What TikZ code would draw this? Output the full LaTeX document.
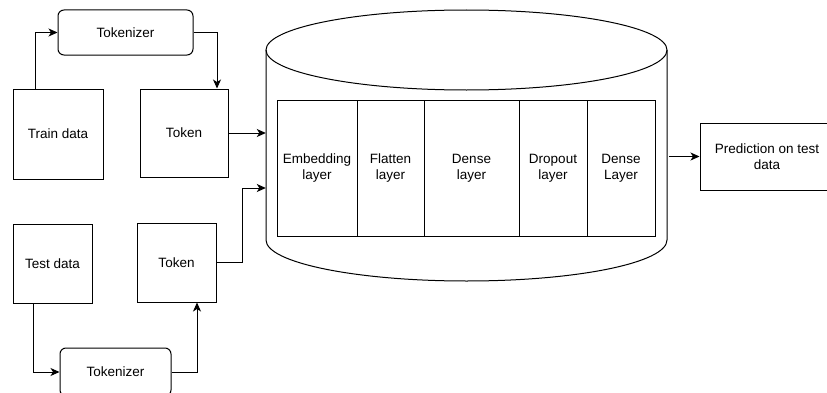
\documentclass[tikz,border=0pt]{standalone}
\usepackage{fontspec}
\setmainfont{Liberation Sans}
\usetikzlibrary{arrows.meta}
\begin{document}
\begin{tikzpicture}[x=1pt,y=1pt,
  box/.style={draw, line width=1pt, rectangle, inner sep=0pt, align=center, font=\fontsize{13.5}{16}\selectfont},
  rbox/.style={box, rounded corners=6pt},
  cell/.style={box, minimum height=136pt},
  arr/.style={line width=1pt, -{Stealth[length=9pt,width=8pt,inset=2.5pt]}}]
\clip (0,0) rectangle (827,392);
\fill[white] (0,0) rectangle (827,392);
% left side nodes
\node[rbox, minimum width=135pt, minimum height=45pt] (tok1) at (125.5,359.5) {Tokenizer};
\node[box, minimum width=90pt, minimum height=90pt] (train) at (58,258) {Train data};
\node[box, minimum width=88pt, minimum height=88pt] (token1) at (184,259) {Token};
\node[box, minimum width=79pt, minimum height=79pt] (test) at (52.5,128.5) {Test data};
\node[box, minimum width=79pt, minimum height=79pt] (token2) at (176.5,129.5) {Token};
\node[rbox, minimum width=111pt, minimum height=48pt] (tok2) at (115.5,20) {Tokenizer};
% cylinder
\draw[line width=1pt] (466.5,342) ellipse [x radius=200.5pt, y radius=40pt];
\draw[line width=1pt] (266,342) -- (266,152) arc[start angle=180, end angle=360, x radius=200.5pt, y radius=41pt] -- (667,342);
\node[minimum width=401pt, minimum height=271pt, inner sep=0pt] (cyl) at (466.5,246.5) {};
% layers
\node[cell, minimum width=80pt] (emb) at (317,224) {Embedding\\layer};
\node[cell, minimum width=67pt] (flat) at (390.5,224) {Flatten\\layer};
\node[cell, minimum width=95pt] (dense) at (471.5,224) {Dense\\layer};
\node[cell, minimum width=68pt] (drop) at (553,224) {Dropout\\layer};
\node[cell, minimum width=68pt] (dense2) at (621,224) {Dense\\Layer};
% prediction
\node[box, minimum width=134pt, minimum height=67pt] (pred) at (767,235.5) {Prediction on test\\data};
% connectors
\draw[arr] ([xshift=-23pt]train.north) |- (tok1.west);
\draw[arr] (tok1.east) -| ([xshift=33pt]token1.north);
\draw[arr] (token1.east) -- (token1.east -| cyl.west);
\draw[arr] ([xshift=-19.5pt]test.south) |- (tok2.west);
\draw[arr] (tok2.east) -| ([xshift=20.5pt]token2.south);
\draw[arr] (token2.east) -- ++(26,0) |- ([yshift=-42.5pt]cyl.west);
\draw[arr] ([xshift=2pt]cyl.east |- pred.west) -- (pred.west);
\end{tikzpicture}
\end{document}
